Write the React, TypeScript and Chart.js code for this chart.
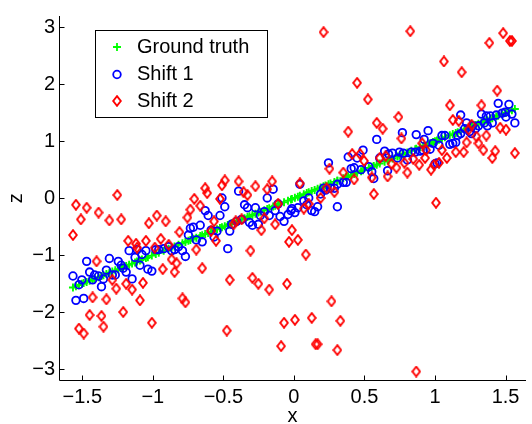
import React, { useEffect, useRef } from 'react';
import { Chart, registerables } from 'chart.js';

Chart.register(...registerables);

const FONT = '"Liberation Sans", Arial, Helvetica, sans-serif';

const xTicks = [-1.5, -1, -0.5, 0, 0.5, 1, 1.5];
const xTickLabels = ['−1.5', '−1', '−0.5', '0', '0.5', '1', '1.5'];
const yTicks = [-3, -2, -1, 0, 1, 2, 3];
const yTickLabels = ['−3', '−2', '−1', '0', '1', '2', '3'];
const xRange = [-1.665, 1.645];
const yRange = [-3.2, 3.2];
const xTitle = 'x';
const yTitle = 'z';
const seriesLabels = ['Ground truth', 'Shift 1', 'Shift 2'];

// shared sample positions (ground truth and shift 1)
const sampleX = [
  -1.566, -1.545, -1.524, -1.503, -1.490, -1.469, -1.448, -1.427, -1.413, -1.385,
  -1.364, -1.350, -1.329, -1.308, -1.287, -1.266, -1.245, -1.224, -1.210, -1.189,
  -1.168, -1.147, -1.126, -1.112, -1.091, -1.077, -1.049, -1.035, -1.007, -0.979,
  -0.958, -0.923, -0.888, -0.867, -0.846, -0.818, -0.790, -0.769, -0.748, -0.734,
  -0.713, -0.692, -0.664, -0.650, -0.629, -0.608, -0.587, -0.566, -0.545, -0.524,
  -0.510, -0.490, -0.469, -0.455, -0.441, -0.406, -0.392, -0.371, -0.350, -0.329,
  -0.315, -0.294, -0.273, -0.252, -0.238, -0.210, -0.189, -0.175, -0.147, -0.133,
  -0.112, -0.098, -0.070, -0.042, -0.021, -0.014, 0.007, 0.028, 0.042, 0.070,
  0.091, 0.105, 0.126, 0.147, 0.168, 0.189, 0.210, 0.224, 0.245, 0.259,
  0.287, 0.308, 0.308, 0.350, 0.371, 0.385, 0.406, 0.427, 0.448, 0.476,
  0.490, 0.531, 0.552, 0.566, 0.587, 0.608, 0.643, 0.664, 0.671, 0.699,
  0.734, 0.748, 0.769, 0.776, 0.804, 0.832, 0.860, 0.867, 0.895, 0.916,
  0.923, 0.951, 0.965, 0.986, 1.000, 1.014, 1.028, 1.049, 1.070, 1.105,
  1.126, 1.147, 1.161, 1.182, 1.182, 1.210, 1.224, 1.245, 1.259, 1.266,
  1.287, 1.308, 1.329, 1.350, 1.364, 1.371, 1.392, 1.406, 1.434, 1.448,
  1.476, 1.497, 1.503, 1.524, 1.545, 1.566,
];

const groundZ = [
  -1.566, -1.545, -1.524, -1.503, -1.490, -1.469, -1.448, -1.427, -1.413, -1.385,
  -1.364, -1.350, -1.329, -1.308, -1.287, -1.266, -1.245, -1.224, -1.210, -1.189,
  -1.168, -1.147, -1.126, -1.112, -1.091, -1.077, -1.049, -1.035, -1.007, -0.979,
  -0.958, -0.923, -0.888, -0.867, -0.846, -0.818, -0.790, -0.769, -0.748, -0.734,
  -0.713, -0.692, -0.664, -0.650, -0.629, -0.608, -0.587, -0.566, -0.545, -0.524,
  -0.510, -0.490, -0.469, -0.455, -0.441, -0.406, -0.392, -0.371, -0.350, -0.329,
  -0.315, -0.294, -0.273, -0.252, -0.238, -0.210, -0.189, -0.175, -0.147, -0.133,
  -0.112, -0.098, -0.070, -0.042, -0.021, -0.014, 0.007, 0.028, 0.042, 0.070,
  0.091, 0.105, 0.126, 0.147, 0.168, 0.189, 0.210, 0.224, 0.245, 0.259,
  0.287, 0.308, 0.308, 0.350, 0.371, 0.385, 0.406, 0.427, 0.448, 0.476,
  0.490, 0.531, 0.552, 0.566, 0.587, 0.608, 0.643, 0.664, 0.671, 0.699,
  0.734, 0.748, 0.769, 0.776, 0.804, 0.832, 0.860, 0.867, 0.895, 0.916,
  0.923, 0.951, 0.965, 0.986, 1.000, 1.014, 1.028, 1.049, 1.070, 1.105,
  1.126, 1.147, 1.161, 1.182, 1.182, 1.210, 1.224, 1.245, 1.259, 1.266,
  1.287, 1.308, 1.329, 1.350, 1.364, 1.371, 1.392, 1.406, 1.434, 1.448,
  1.476, 1.497, 1.503, 1.524, 1.545, 1.566,
];

const shift1Z = [
  -1.365, -1.793, -1.519, -1.433, -1.759, -1.108, -1.296, -1.433, -1.348, -1.365,
  -1.553, -1.416, -1.262, -1.057, -1.348, -1.348, -1.108, -1.176, -1.228, -1.296,
  -0.920, -1.416, -1.039, -0.902, -1.176, -0.988, -0.920, -1.245, -1.279, -0.902,
  -0.902, -0.885, -0.851, -0.920, -0.902, -0.851, -0.920, -1.022, -0.646, -0.526,
  -0.509, -0.731, -0.474, -0.765, -0.217, -0.303, -0.560, -0.680, -0.577, -0.303,
  0.005, -0.149, -0.885, -0.577, -0.457, -0.406, 0.125, -0.372, -0.115, -0.166,
  -0.423, -0.474, -0.166, -0.457, -0.303, -0.235, 0.005, -0.303, 0.159, -0.217,
  -0.098, -0.320, -0.406, -0.286, -0.217, -0.183, -0.252, -0.166, 0.245, -0.046,
  -0.115, 0.005, -0.217, -0.235, -0.149, 0.074, 0.176, 0.142, 0.622, 0.176,
  0.176, 0.245, -0.149, 0.279, 0.279, 0.724, 0.519, 0.536, 0.707, 0.502,
  0.844, 0.553, 0.467, 0.347, 1.033, 0.707, 0.827, 0.484, 0.776, 0.793,
  0.707, 0.810, 1.152, 0.793, 0.673, 0.810, 0.810, 1.118, 0.827, 0.844,
  1.033, 1.187, 0.861, 0.964, 0.604, 0.622, 0.930, 1.101, 1.101, 0.947,
  0.964, 0.981, 1.101, 1.461, 1.135, 1.221, 1.323, 1.170, 1.135, 1.272,
  1.221, 1.272, 1.478, 1.323, 1.444, 1.272, 1.444, 1.323, 1.461, 1.666,
  1.495, 1.512, 1.426, 1.649, 1.478, 1.323,
];

const shift2X = [
  -1.566, -1.545, -1.524, -1.510, -1.490, -1.469, -1.448, -1.427, -1.399, -1.385,
  -1.364, -1.350, -1.329, -1.308, -1.287, -1.259, -1.252, -1.224, -1.210, -1.189,
  -1.175, -1.147, -1.119, -1.112, -1.091, -1.070, -1.049, -1.028, -1.007, -0.986,
  -0.972, -0.944, -0.930, -0.909, -0.888, -0.867, -0.846, -0.832, -0.811, -0.790,
  -0.769, -0.755, -0.734, -0.706, -0.692, -0.664, -0.650, -0.629, -0.615, -0.587,
  -0.566, -0.552, -0.524, -0.510, -0.490, -0.476, -0.455, -0.427, -0.413, -0.392,
  -0.371, -0.357, -0.329, -0.308, -0.294, -0.273, -0.252, -0.231, -0.210, -0.189,
  -0.175, -0.154, -0.133, -0.112, -0.091, -0.070, -0.049, -0.035, -0.014, 0.007,
  0.028, 0.042, 0.070, 0.084, 0.105, 0.126, 0.154, 0.168, 0.189, 0.210,
  0.231, 0.252, 0.266, 0.287, 0.308, 0.329, 0.350, 0.385, 0.413, 0.427,
  0.448, 0.469, 0.497, 0.524, 0.552, 0.566, 0.587, 0.608, 0.629, 0.650,
  0.664, 0.692, 0.727, 0.741, 0.762, 0.783, 0.804, 0.825, 0.846, 0.867,
  0.888, 0.909, 0.930, 0.937, 0.972, 0.993, 1.007, 1.028, 1.049, 1.063,
  1.084, 1.105, 1.126, 1.147, 1.168, 1.189, 1.203, 1.224, 1.238, 1.259,
  1.294, 1.308, 1.329, 1.343, 1.364, 1.385, 1.406, 1.427, 1.441, 1.462,
  1.483, 1.503, 1.531, 1.545, 1.566,
];

const shift2Z = [
  -0.646, -0.115, -2.289, -0.372, -2.375, -0.166, -2.050, -1.741, -1.108, -0.252,
  -2.067, -2.255, -1.776, -0.389, -1.433, -1.587, 0.057, -0.372, -1.998, -1.502,
  -0.748, -1.604, -0.800, -0.868, -1.793, -1.485, -0.748, -0.440, -2.187, -0.868,
  -0.303, -0.714, -1.245, -0.406, -0.817, -1.074, -1.296, -1.142, -0.594, -1.759,
  -1.827, -0.338, -0.200, -0.012, -0.902, -0.132, -1.228, 0.176, 0.091, -0.577,
  -0.406, -0.748, -0.012, 0.228, 0.313, -2.324, -1.433, -0.457, -0.406, 0.296,
  -0.372, 0.108, 0.057, -0.920, -1.399, 0.210, -1.502, -0.560, -0.354, 0.159,
  -1.604, 0.296, -0.457, -0.098, -2.597, -2.187, -1.502, -0.765, -0.560, -2.135,
  -0.731, 0.262, -0.183, -0.988, -0.098, -2.101, -2.563, -2.563, 0.005, 2.916,
  0.176, 0.519, -1.810, 0.108, -2.666, -2.153, 0.450, 1.169, 0.776, 0.330,
  2.026, 0.776, 0.656, 1.735, 0.365, 0.074, 1.323, 0.707, 1.221, 0.741,
  0.382, 0.604, 0.536, 1.426, 1.050, 0.622, 0.450, 2.933, 0.690, -3.043,
  0.587, 0.964, 0.707, 0.844, 0.502, 0.587, -0.080, 0.622, 0.844, 2.402,
  0.707, 1.632, 1.375, 0.810, 1.358, 2.213, 0.810, 0.981, 1.204, 1.290,
  1.084, 0.964, 1.632, 0.844, 1.101, 2.728, 0.707, 0.827, 1.889, 1.238,
  2.899, 1.204, 2.762, 2.762, 0.793,
];

const GREEN = '#00ff00';
const BLUE = '#0000ff';
const RED = '#ff0000';

function makeDiamond(): HTMLCanvasElement {
  const c = document.createElement('canvas');
  c.width = 10;
  c.height = 12;
  const g = c.getContext('2d') as CanvasRenderingContext2D;
  g.strokeStyle = RED;
  g.lineWidth = 1.9;
  g.beginPath();
  g.moveTo(5, 1.2);
  g.lineTo(8.8, 6);
  g.lineTo(5, 10.8);
  g.lineTo(1.2, 6);
  g.closePath();
  g.stroke();
  return c;
}

export default function App() {
  const ref = useRef<HTMLCanvasElement | null>(null);

  useEffect(() => {
    const canvas = ref.current;
    if (!canvas) return;
    const diamond = makeDiamond();

    const axesPlugin = {
      id: 'matlabAxes',
      afterDraw(chart: any) {
        const { ctx, chartArea: a, scales } = chart;
        const xs = scales.x;
        const ys = scales.y;
        ctx.save();
        ctx.strokeStyle = '#000';
        ctx.lineWidth = 1;
        const L = Math.floor(a.left) + 0.5;
        const B = Math.floor(a.bottom) + 0.5;
        ctx.beginPath();
        ctx.moveTo(L, a.top);
        ctx.lineTo(L, B);
        ctx.lineTo(a.right, B);
        ctx.stroke();
        ctx.beginPath();
        yTicks.forEach((v) => {
          const p = Math.round(ys.getPixelForValue(v)) + 0.5;
          ctx.moveTo(L, p);
          ctx.lineTo(L + 5, p);
        });
        xTicks.forEach((v) => {
          const p = Math.round(xs.getPixelForValue(v)) + 0.5;
          ctx.moveTo(p, B);
          ctx.lineTo(p, B - 5);
        });
        ctx.stroke();

        // legend box
        const bx = 95.5, by = 30.5, bw = 172, bh = 87;
        ctx.fillStyle = '#fff';
        ctx.fillRect(bx, by, bw, bh);
        ctx.strokeRect(bx, by, bw, bh);
        const rows = [47, 74.5, 101];
        const mx = 117;
        ctx.font = `20px ${FONT}`;
        ctx.textBaseline = 'middle';
        ctx.textAlign = 'left';
        chart.data.datasets.forEach((ds: any, i: number) => {
          const y = rows[i];
          ctx.lineWidth = 1.8;
          if (i === 0) {
            ctx.strokeStyle = GREEN;
            ctx.beginPath();
            ctx.moveTo(mx - 4, y);
            ctx.lineTo(mx + 4, y);
            ctx.moveTo(mx, y - 4);
            ctx.lineTo(mx, y + 4);
            ctx.stroke();
          } else if (i === 1) {
            ctx.strokeStyle = BLUE;
            ctx.beginPath();
            ctx.arc(mx, y, 3.8, 0, Math.PI * 2);
            ctx.stroke();
          } else {
            ctx.drawImage(diamond, mx - 5, y - 6);
          }
          ctx.fillStyle = '#000';
          ctx.fillText(ds.label, 137, y);
        });
        ctx.restore();
      },
    };

    const chart = new Chart(canvas, {
      type: 'scatter',
      data: {
        datasets: [
          {
            label: seriesLabels[0],
            data: sampleX.map((x, i) => ({ x, y: groundZ[i] })),
            pointStyle: 'cross',
            pointRadius: 4,
            pointBorderWidth: 1.9,
            pointBorderColor: GREEN,
            pointBackgroundColor: 'transparent',
            borderColor: GREEN,
            backgroundColor: 'transparent',
            showLine: false,
            order: 3,
          },
          {
            label: seriesLabels[1],
            data: sampleX.map((x, i) => ({ x, y: shift1Z[i] })),
            pointStyle: 'circle',
            pointRadius: 3.8,
            pointBorderWidth: 1.8,
            pointBorderColor: BLUE,
            pointBackgroundColor: 'transparent',
            borderColor: BLUE,
            backgroundColor: 'transparent',
            showLine: false,
            order: 2,
          },
          {
            label: seriesLabels[2],
            data: shift2X.map((x, i) => ({ x, y: shift2Z[i] })),
            pointStyle: diamond as any,
            pointRadius: 5,
            pointBorderColor: RED,
            pointBackgroundColor: 'transparent',
            borderColor: RED,
            backgroundColor: 'transparent',
            showLine: false,
            order: 1,
          },
        ],
      },
      options: {
        animation: false,
        responsive: false,
        maintainAspectRatio: false,
        layout: { padding: { top: 6.4, right: 0, left: 0, bottom: 0 } },
        plugins: { legend: { display: false }, tooltip: { enabled: false } },
        scales: {
          x: {
            type: 'linear',
            position: 'bottom',
            min: xRange[0],
            max: xRange[1],
            grid: { display: false, drawTicks: false },
            border: { display: false },
            afterFit: (s: any) => {
              s.height = 43.5;
            },
            afterBuildTicks: (s: any) => {
              s.ticks = xTicks.map((v) => ({ value: v }));
            },
            ticks: {
              padding: 4.5,
              color: '#000',
              font: { family: FONT, size: 20 },
              maxRotation: 0,
              autoSkip: false,
              callback: (v: any) => xTickLabels[xTicks.indexOf(Number(v))],
            },
            title: {
              display: true,
              text: xTitle,
              color: '#000',
              font: { family: FONT, size: 20 },
              padding: { top: 0, bottom: -4 },
            },
          },
          y: {
            type: 'linear',
            position: 'left',
            min: yRange[0],
            max: yRange[1],
            grid: { display: false, drawTicks: false },
            border: { display: false },
            afterFit: (s: any) => {
              s.width = 59;
            },
            afterBuildTicks: (s: any) => {
              s.ticks = yTicks.map((v) => ({ value: v }));
            },
            ticks: {
              padding: 4,
              color: '#000',
              font: { family: FONT, size: 20 },
              autoSkip: false,
              callback: (v: any) => yTickLabels[yTicks.indexOf(Number(v))],
            },
            title: {
              display: true,
              text: yTitle,
              color: '#000',
              font: { family: FONT, size: 20 },
              padding: { top: 4, bottom: 0 },
            },
          },
        },
      },
      plugins: [axesPlugin],
    } as any);

    return () => {
      chart.destroy();
    };
  }, []);

  return (
    <div style={{ position: 'fixed', left: 0, top: 0, width: 532, height: 424, background: '#fff' }}>
      <canvas ref={ref} width={532} height={424} style={{ display: 'block' }} />
    </div>
  );
}
